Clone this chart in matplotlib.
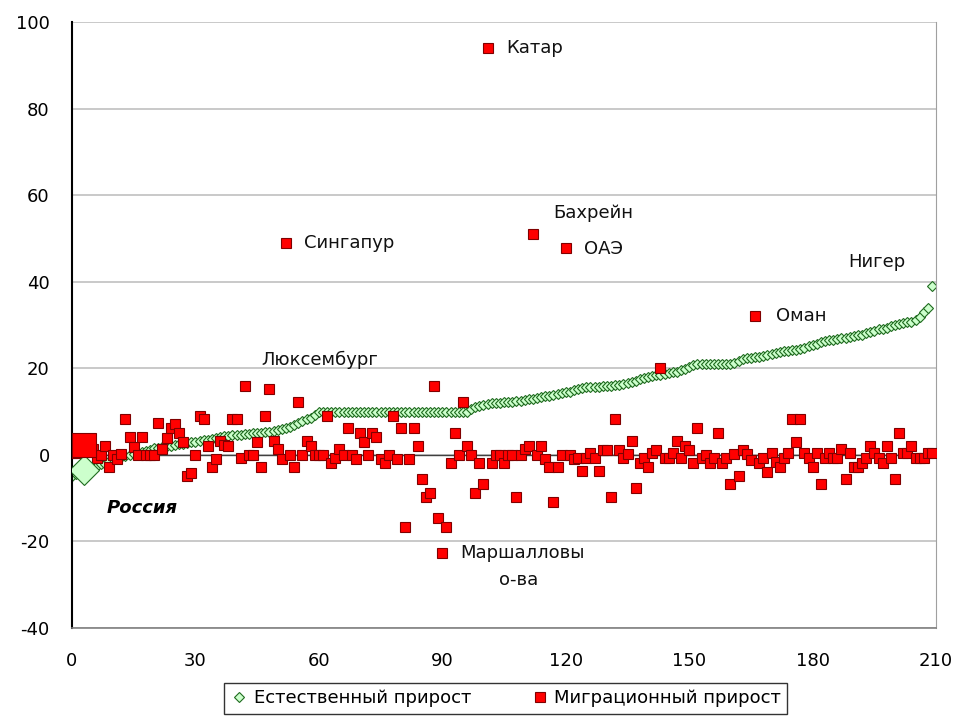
import numpy as np
import matplotlib
matplotlib.use("Agg")
import matplotlib.pyplot as plt

plt.rcParams['font.family'] = ['DejaVu Sans']
plt.rcParams['axes.unicode_minus'] = False

# natural growth per 1000, countries sorted ascending (index = rank)
natural = [
    -5, -4.5, -4, -3.5, -3, -3, -2.5, -2, -2, -1.5,
    -1, -1, -0.5, -0.3, 0, 0.2, 0.5, 0.7, 1, 1.2,
    1.5, 1.7, 1.9, 2, 2.1, 2.3, 2.5, 2.6, 2.8, 2.9,
    3, 3.2, 3.4, 3.5, 3.7, 4, 4.2, 4.3, 4.4, 4.5,
    4.6, 4.7, 4.8, 4.9, 5, 5, 5.1, 5.2, 5.3, 5.5,
    5.7, 6, 6.2, 6.5, 7, 7.4, 7.8, 8.2, 8.6, 9.2,
    9.8, 10, 10, 10, 10, 10, 10, 10, 10, 10,
    10, 10, 10, 10, 10, 10, 10, 10, 10, 10,
    10, 10, 10, 10, 10, 10, 10, 10, 10, 10,
    10, 10, 10, 10, 10, 10, 10, 10.5, 11, 11.3,
    11.6, 11.8, 12, 12, 12.1, 12.2, 12.3, 12.3, 12.4, 12.5,
    12.7, 12.9, 13, 13.1, 13.3, 13.5, 13.7, 13.9, 14.1, 14.3,
    14.5, 14.6, 15, 15.2, 15.5, 15.6, 15.7, 15.7, 15.8, 15.9,
    16, 16, 16.1, 16.2, 16.3, 16.5, 16.8, 17.1, 17.5, 17.8,
    18, 18.2, 18.4, 18.5, 18.7, 18.9, 19.1, 19.2, 19.5, 19.8,
    20.2, 20.7, 21, 21, 21, 21, 21, 21, 21, 21,
    21, 21.3, 21.8, 22.2, 22.4, 22.5, 22.6, 22.7, 22.8, 23,
    23.2, 23.5, 23.8, 24, 24.1, 24.2, 24.3, 24.5, 24.8, 25.1,
    25.4, 25.7, 26, 26.3, 26.5, 26.6, 26.8, 26.9, 27, 27.2,
    27.4, 27.6, 27.8, 28.1, 28.4, 28.7, 29, 29.2, 29.4, 29.7,
    30, 30.2, 30.4, 30.6, 30.8, 31.2, 31.8, 33, 34, 39,
]

# net migration per 1000, same country order
migration = [
    0.5, 0.5, 1, 2.3, 2, 1.4, -0.7, 0, 2, -2.8,
    0, -1, 0.2, 8.3, 4.2, 1.8, 0, 4.2, 0, 0,
    0, 7.4, 1.4, 4, 6.2, 7.2, 5, 3, -5, -4.2,
    0, 9, 8.2, 2, -2.8, -1, 3.2, 2.3, 2, 8.3,
    8.3, -0.7, 16, 0, 0, 3, -2.8, 9, 15.2, 3.2,
    1.4, -1, 49, 0, -2.8, 12.3, 0, 3.2, 2, 0,
    0, 0, 9, -1.8, -0.7, 1.4, 0, 6.2, 0, -1,
    5, 3, 0, 5, 4.2, -1, -1.8, 0, 9, -1,
    6.2, -16.6, -1, 6.2, 2, -5.5, -9.7, -8.8, 16, -14.5,
    -22.6, -16.6, -1.8, 5, 0, 12.3, 2, 0, -8.8, -1.8,
    -6.7, 94, -1.8, 0, 0, -1.8, 0, 0, -9.7, 0,
    1.4, 2, 51, 0, 2, -1, -2.8, -10.9, -2.8, 0,
    47.8, 0, -1, -0.8, -3.7, -0.8, 0.4, -0.8, -3.7, 1.1,
    1.1, -9.7, 8.3, 1.1, -0.8, 0.2, 3.2, -7.7, -1.8, -0.8,
    -2.8, 0.4, 1.1, 20, -0.8, -0.8, 0.4, 3.2, -0.8, 2,
    1.1, -1.8, 6.2, -0.8, 0, -1.8, -0.8, 5, -1.8, -0.8,
    -6.7, 0.2, -4.8, 1.1, 0.2, -1.2, 32, -1.9, -0.8, -3.9,
    0.4, -1.6, -2.8, -0.8, 0.4, 8.3, 3, 8.3, 0.4, -0.8,
    -2.8, 0.4, -6.7, -0.8, 0.4, -0.8, -0.8, 1.4, -5.5, 0.4,
    -2.8, -2.8, -1.9, -0.8, 2, 0.4, -0.8, -1.9, 2, -0.8,
    -5.5, 5, 0.4, 0.4, 2, -0.8, -0.8, -0.8, 0.4, 0.4,
]

russia_idx = 3

# annotations: (text, x, y)
labels = [
    ("Катар", 105.5, 94),
    ("Сингапур", 56.5, 49),
    ("Бахрейн", 117, 56),
    ("ОАЭ", 124.4, 47.6),
    ("Нигер", 188.6, 44.6),
    ("Оман", 171.2, 32),
    ("Люксембург", 46, 22),
    ("Маршалловы", 94.3, -22.6),
    ("о-ва", 103.8, -28.9),
]

x = np.arange(len(natural))

fig = plt.figure(figsize=(9.57, 7.16), dpi=100)
ax = fig.add_axes([0.0752, 0.123, 0.903, 0.846])

ax.set_xlim(0, 210)
ax.set_ylim(-40, 100)
ax.set_xticks(range(0, 211, 30))
ax.set_yticks(range(-40, 101, 20))
ax.grid(axis='y', color='#c0c0c0', linewidth=1.2)
ax.set_axisbelow(True)
ax.axhline(0, color='#404040', linewidth=1.0, zorder=1)

ax.plot(x, natural, linestyle='none', marker='D', markersize=5.5,
        markerfacecolor='#ccffcc', markeredgecolor='#1f6b1f',
        markeredgewidth=0.8, zorder=2, label='Естественный прирост')
ax.plot(x, migration, linestyle='none', marker='s', markersize=7.5,
        markerfacecolor='#ff0000', markeredgecolor='#800000',
        markeredgewidth=0.8, zorder=3, label='Миграционный прирост')

# Russia highlighted with bigger markers
ax.plot(x[russia_idx], natural[russia_idx], marker='D', markersize=15,
        markerfacecolor='#ccffcc', markeredgecolor='#1f6b1f',
        markeredgewidth=0.8, zorder=3)
ax.plot(x[russia_idx], migration[russia_idx], marker='s', markersize=17,
        markerfacecolor='#ff0000', markeredgecolor='#800000',
        markeredgewidth=0.8, zorder=4)

for txt, tx, ty in labels:
    ax.text(tx, ty, txt, fontsize=13, va='center', ha='left', color='#111111')
ax.text(8.5, -12.2, "Россия", fontsize=13, fontweight='bold', style='italic',
        va='center', ha='left', color='black')

ax.spines['top'].set_visible(False)
ax.spines['right'].set_color('#a0a0a0')
ax.spines['left'].set_color('black')
ax.spines['left'].set_linewidth(1.5)
ax.spines['bottom'].set_color('#808080')
ax.spines['bottom'].set_linewidth(1.2)
ax.tick_params(length=0, labelsize=13, colors='black')
ax.tick_params(axis='y', pad=16)
ax.tick_params(axis='x', pad=17)

leg = ax.legend(loc='upper center', bbox_to_anchor=(0.502, -0.091), ncol=2,
                frameon=True, fancybox=False, edgecolor='black', fontsize=13,
                handletextpad=0.3, columnspacing=3.3, borderpad=0.35,
                borderaxespad=0.0, handlelength=1.0, markerscale=1.0)
leg.get_frame().set_linewidth(1.0)

fig.savefig("out.png", dpi=100)
